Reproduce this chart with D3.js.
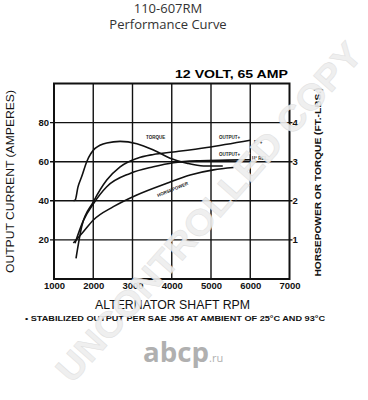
<!DOCTYPE html>
<html>
<head>
<meta charset="utf-8">
<script src="https://cdn.jsdelivr.net/npm/d3@7"></script>
<style>
  html, body { margin: 0; padding: 0; background: #fff; }
  svg { display: block; }
</style>
</head>
<body>
<div id="chart"></div>
<script>
'use strict'

// ---- data ----
const rpmTicks = [1000, 2000, 3000, 4000, 5000, 6000, 7000]
const ampTicks = [20, 40, 60, 80]
const hpTicks = [1, 2, 3, 4]

// output current, cold (amps)
const outColdRpm = [1561, 1706, 2003, 2344, 2684, 3110, 3533, 4043, 4894, 6000]
const outColdAmps = [10.6, 26.8, 39.5, 50.6, 57.4, 61.7, 63.7, 65, 67.3, 71]

// output current, hot (amps)
const outHotRpm = [1536, 1750, 2003, 2344, 2939, 3533, 4043, 4724, 5405, 6000]
const outHotAmps = [18.3, 30, 38.5, 47.2, 54, 57.4, 59.5, 60.5, 60.8, 61]

// torque (ft-lbs, right axis)
const torqueRpm = [1500, 1540, 1610, 1706, 1834, 2046, 2344, 2684, 3110, 3533, 3960, 4385, 4810, 5300]
const torqueVal = [2.0, 2.02, 2.35, 2.62, 3.0, 3.34, 3.48, 3.52, 3.46, 3.3, 3.09, 2.96, 2.89, 2.89]

// horsepower (right axis)
const hpRpm = [1493, 1748, 2003, 2513, 3110, 3875, 4469, 5064, 5574]
const hpVal = [0.92, 1.21, 1.51, 1.85, 2.15, 2.45, 2.66, 2.79, 2.85]

// ---- svg setup ----
const W = 368, H = 400
const svg = d3.select('#chart').append('svg')
    .attr('width', W).attr('height', H)

const box = {left: 54, right: 289.5, top: 83.5, bottom: 279}

const x = d3.scaleLinear().domain([1000, 7000]).range([box.left, box.right])
const y = d3.scaleLinear().domain([0, 100]).range([box.bottom, box.top])
const yR = d3.scaleLinear().domain([0, 5]).range([box.bottom, box.top])

const sans = "'Liberation Sans', Arial, sans-serif"

// titles
svg.append('text').attr('x', 168).attr('y', 12.5)
    .attr('text-anchor', 'middle').attr('font-family', "'Open Sans', sans-serif")
    .attr('font-size', 13).attr('fill', '#333').text('110-607RM')
svg.append('text').attr('x', 168).attr('y', 29)
    .attr('text-anchor', 'middle').attr('font-family', "'Open Sans', sans-serif")
    .attr('font-size', 13).attr('fill', '#333').text('Performance Curve')

svg.append('text').attr('x', 175).attr('y', 77.5)
    .attr('font-family', sans).attr('font-weight', 'bold').attr('font-size', 11)
    .attr('textLength', 113).attr('lengthAdjust', 'spacingAndGlyphs')
    .text('12 VOLT, 65 AMP')

// grid
const g = svg.append('g')
g.selectAll('.vgrid').data(rpmTicks.slice(1, -1)).join('line')
    .attr('x1', d => x(d)).attr('x2', d => x(d))
    .attr('y1', box.top).attr('y2', box.bottom)
    .attr('stroke', '#111').attr('stroke-width', 1.4)
g.selectAll('.hgrid').data(ampTicks).join('line')
    .attr('x1', box.left - 4).attr('x2', box.right + 3)
    .attr('y1', d => y(d)).attr('y2', d => y(d))
    .attr('stroke', '#111').attr('stroke-width', 1.4)
g.append('rect')
    .attr('x', box.left).attr('y', box.top)
    .attr('width', box.right - box.left).attr('height', box.bottom - box.top)
    .attr('fill', 'none').attr('stroke', '#111').attr('stroke-width', 2)

// axes (labels only, no domain line)
const xAxis = svg.append('g').attr('transform', `translate(0,${box.bottom})`)
    .call(d3.axisBottom(x).tickValues(rpmTicks).tickSize(0).tickPadding(3).tickFormat(d3.format('d')))
const yAxis = svg.append('g').attr('transform', `translate(${box.left - 4},0)`)
    .call(d3.axisLeft(y).tickValues(ampTicks).tickSize(0).tickPadding(1))
const yAxisR = svg.append('g').attr('transform', `translate(${box.right + 1},0)`)
    .call(d3.axisRight(yR).tickValues(hpTicks).tickSize(0).tickPadding(2).tickFormat(d3.format('d')))

;[xAxis, yAxis, yAxisR].forEach(a => {
    a.select('.domain').remove()
    a.selectAll('text').attr('font-family', sans).attr('font-weight', 'bold')
        .attr('font-size', 9.5).attr('fill', '#111')
})

// axis titles
svg.append('text')
    .attr('transform', 'translate(13.5,181.5) rotate(-90)')
    .attr('text-anchor', 'middle').attr('font-family', sans).attr('font-size', 10.5)
    .attr('textLength', 183).attr('lengthAdjust', 'spacingAndGlyphs')
    .attr('fill', '#111').text('OUTPUT CURRENT (AMPERES)')
svg.append('text')
    .attr('transform', 'translate(321,182) rotate(-90)')
    .attr('text-anchor', 'middle').attr('font-family', sans).attr('font-weight', 'bold')
    .attr('font-size', 9.5).attr('textLength', 189).attr('lengthAdjust', 'spacingAndGlyphs')
    .attr('fill', '#111').text('HORSEPOWER OR TORQUE (FT.-LBS.)')
svg.append('text')
    .attr('x', 95).attr('y', 309)
    .attr('font-family', sans).attr('font-size', 12)
    .attr('textLength', 155).attr('lengthAdjust', 'spacingAndGlyphs')
    .attr('fill', '#111').text('ALTERNATOR SHAFT RPM')
svg.append('text')
    .attr('x', 25).attr('y', 321)
    .attr('font-family', sans).attr('font-weight', 'bold').attr('font-size', 7)
    .attr('textLength', 300).attr('lengthAdjust', 'spacingAndGlyphs')
    .attr('fill', '#111').text('\u2022 STABILIZED OUTPUT PER SAE J56 AT AMBIENT OF 25\u00B0C AND 93\u00B0C')

// curves
const lineL = d3.line().x(d => x(d[0])).y(d => y(d[1])).curve(d3.curveMonotoneX)
const lineR = d3.line().x(d => x(d[0])).y(d => yR(d[1])).curve(d3.curveMonotoneX)

const curves = svg.append('g').attr('fill', 'none').attr('stroke', '#111').attr('stroke-width', 1.6)
curves.append('path').attr('d', lineL(d3.zip(outColdRpm, outColdAmps)))
curves.append('path').attr('d', lineL(d3.zip(outHotRpm, outHotAmps)))
curves.append('path').attr('d', lineR(d3.zip(torqueRpm, torqueVal)))
curves.append('path').attr('d', lineR(d3.zip(hpRpm, hpVal)))

// tiny in-plot labels
const tiny = (tx, ty, txt, rot = 0) => svg.append('text')
    .attr('transform', `translate(${tx},${ty}) rotate(${rot})`)
    .attr('font-family', sans).attr('font-weight', 'bold').attr('font-size', 4.5)
    .attr('fill', '#222').text(txt)
tiny(146, 138.5, 'TORQUE')
tiny(219, 138.5, 'OUTPUT+')
tiny(254, 143.5, 'F\u00B0 +')
tiny(219, 156, 'OUTPUT+')
tiny(252, 159.5, 'H\u00B0 REL.')
tiny(158, 197, 'HORSEPOWER', -22)

// watermark
svg.append('text')
    .attr('transform', 'translate(211,214) rotate(-48.4)')
    .attr('text-anchor', 'middle').attr('dominant-baseline', 'middle')
    .attr('font-family', sans).attr('font-weight', 'bold').attr('font-size', 36)
    .attr('textLength', 440).attr('lengthAdjust', 'spacingAndGlyphs')
    .attr('fill', '#eeeeee').attr('stroke', '#dcdcdc').attr('stroke-width', 0.5)
    .attr('opacity', 0.9)
    .text('UNCONTROLLED COPY')

// logo
const logo = svg.append('text').attr('x', 143).attr('y', 362)
    .attr('font-family', "'Open Sans', sans-serif").attr('font-weight', 700)
    .attr('fill', '#b0b0b0')
logo.append('tspan').attr('font-size', 26).attr('textLength', 66)
    .attr('lengthAdjust', 'spacingAndGlyphs').text('abcp')
logo.append('tspan').attr('font-size', 11).attr('font-weight', 400).text('.ru')
</script>
</body>
</html>
